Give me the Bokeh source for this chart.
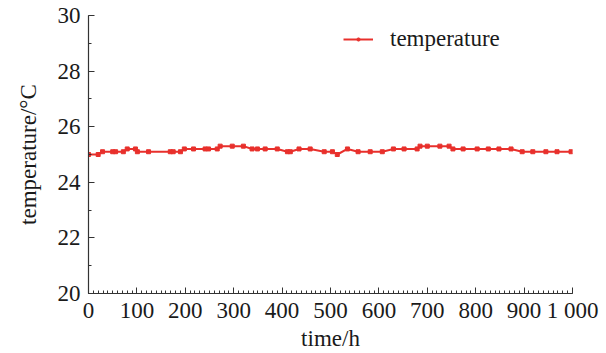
from bokeh.plotting import figure
from bokeh.models import Range1d, FixedTicker, Legend, LegendItem
from bokeh.embed import file_html
from bokeh.resources import INLINE

time_h = [0, 20, 29, 50, 56, 72, 80, 97, 101, 124, 169, 175, 190, 198, 217, 241, 248,
          266, 272, 297, 320, 338, 349, 365, 390, 411, 417, 435, 458, 487, 504, 514,
          535, 557, 582, 607, 630, 652, 679, 685, 700, 726, 745, 753, 774, 803, 826,
          848, 873, 896, 918, 945, 968, 997]
temperature = [25.0, 25.0, 25.1, 25.1, 25.1, 25.1, 25.2, 25.2, 25.1, 25.1, 25.1, 25.1,
               25.1, 25.2, 25.2, 25.2, 25.2, 25.2, 25.3, 25.3, 25.3, 25.2, 25.2, 25.2,
               25.2, 25.1, 25.1, 25.2, 25.2, 25.1, 25.1, 25.0, 25.2, 25.1, 25.1, 25.1,
               25.2, 25.2, 25.2, 25.3, 25.3, 25.3, 25.3, 25.2, 25.2, 25.2, 25.2, 25.2,
               25.2, 25.1, 25.1, 25.1, 25.1, 25.1]
x_ticks = [0, 100, 200, 300, 400, 500, 600, 700, 800, 900, 1000]
x_tick_labels = ["0", "100", "200", "300", "400", "500", "600", "700", "800", "900", "1 000"]
y_ticks = [20, 22, 24, 26, 28, 30]

FONT = "Liberation Serif"
RED = "#e8302c"
TXT = "#1a1a1a"
FS = "23px"

p = figure(width=606, height=353, output_backend="svg", toolbar_location=None,
           x_range=Range1d(0, 1000), y_range=Range1d(20, 30),
           min_border_left=88, min_border_top=15, min_border_bottom=57, min_border_right=34)
p.outline_line_color = None
p.xgrid.visible = False
p.ygrid.visible = False
p.background_fill_color = "white"
p.border_fill_color = "white"

r_line = p.line(time_h, temperature, line_color=RED, line_width=2)
r_mark = p.scatter(time_h, temperature, marker="square", size=4,
                   fill_color=RED, line_color=RED)
# legend-only marker (placed outside the visible range)
r_leg = p.scatter([-5000], [25], marker="circle", size=3,
                  fill_color=RED, line_color=RED)

for ax in (p.xaxis[0], p.yaxis[0]):
    ax.axis_line_color = "#333333"
    ax.axis_line_width = 1.2
    ax.major_tick_line_color = "#333333"
    ax.minor_tick_line_color = "#333333"
    ax.major_tick_out = 0
    ax.major_tick_in = 6
    ax.minor_tick_out = 0
    ax.minor_tick_in = 3
    ax.major_label_text_font = FONT
    ax.major_label_text_font_size = FS
    ax.major_label_text_color = TXT
    ax.axis_label_text_font = FONT
    ax.axis_label_text_font_size = FS
    ax.axis_label_text_font_style = "normal"
    ax.axis_label_text_color = TXT

p.xaxis[0].ticker = FixedTicker(ticks=x_ticks,
                                minor_ticks=[v for v in range(0, 1001, 10)])
p.xaxis[0].major_label_overrides = {t: l for t, l in zip(x_ticks, x_tick_labels)}
p.xaxis[0].axis_label = "time/h"
p.xaxis[0].major_label_standoff = 4
p.xaxis[0].axis_label_standoff = 0

p.yaxis[0].ticker = FixedTicker(ticks=y_ticks, minor_ticks=list(range(20, 31)))
p.yaxis[0].axis_label = "temperature/°C"
p.yaxis[0].major_label_standoff = 8
p.yaxis[0].axis_label_standoff = 14

legend = Legend(items=[LegendItem(label="temperature", renderers=[r_line, r_leg])],
                location=(255, 241), orientation="vertical")
legend.border_line_color = None
legend.background_fill_alpha = 0
legend.padding = 0
legend.margin = 0
legend.glyph_width = 30
legend.glyph_height = 8
legend.label_height = 20
legend.label_standoff = 17
legend.label_text_font = FONT
legend.label_text_font_size = FS
legend.label_text_color = TXT
p.add_layout(legend, "center")

open("out.html", "w").write(file_html(p, INLINE))
